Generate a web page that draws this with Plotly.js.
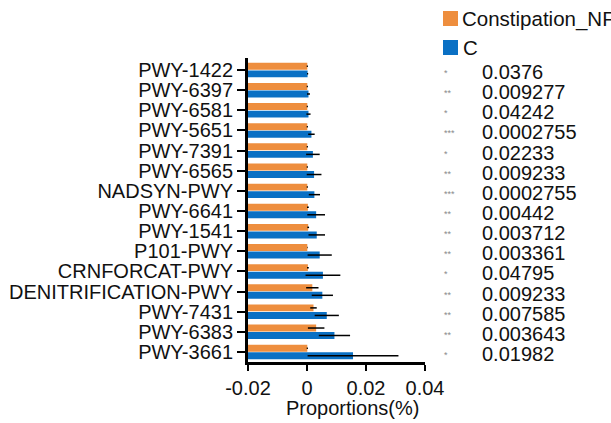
<!DOCTYPE html>
<html>
<head>
<meta charset="utf-8">
<script src="https://cdn.plot.ly/plotly-3.0.1.min.js"></script>
<style>
html,body{margin:0;padding:0;background:#fff;}
#chart{width:611px;height:423px;}
</style>
</head>
<body>
<div id="chart"></div>
<script>
// ---- data ----
const categories = ["PWY-1422","PWY-6397","PWY-6581","PWY-5651","PWY-7391","PWY-6565","NADSYN-PWY","PWY-6641","PWY-1541","P101-PWY","CRNFORCAT-PWY","DENITRIFICATION-PWY","PWY-7431","PWY-6383","PWY-3661"];
const seriesNames = ["Constipation_NF","C"];
const constipationNF = [0.0001,0.0001,0.0001,0.0001,0.0001,0.0001,0.0001,0.0003,0.0004,0.0001,0.0003,0.0018,0.0022,0.0031,0.0001];
const constipationNFErr = [0.0002,0.0002,0.0002,0.0002,0.0002,0.0002,0.0002,0.0003,0.0003,0.0001,0.0003,0.0021,0.0011,0.0028,0.0002];
const cVals = [0.0002,0.0005,0.0005,0.0015,0.0020,0.0024,0.0025,0.0031,0.0033,0.0043,0.0054,0.0052,0.0067,0.0093,0.0156];
const cErr = [0.0002,0.0005,0.0007,0.0011,0.0023,0.0025,0.0019,0.0030,0.0028,0.0041,0.0059,0.0036,0.0041,0.0053,0.0154];
const stars = ["*","**","*","***","*","**","***","**","**","**","*","**","**","**","*"];
const pValues = ["0.0376","0.009277","0.04242","0.0002755","0.02233","0.009233","0.0002755","0.00442","0.003712","0.003361","0.04795","0.009233","0.007585","0.003643","0.01982"];
const xTickVals = [-0.02, 0, 0.02, 0.04];
const xTickText = ["-0.02","0","0.02","0.04"];
const xTitle = "Proportions(%)";
const barBase = -0.02;

const colors = ["#EE8E3E", "#0A70C4"];
const FONT = "Liberation Sans, Arial, Helvetica, sans-serif";

function mkTrace(vals, errs, name, color) {
  return {
    type: "bar",
    orientation: "h",
    y: categories,
    x: vals.map(v => v - barBase),
    base: barBase,
    name: name,
    marker: {color: color, line: {width: 0}},
    error_x: {type: "data", array: errs, visible: true, color: "#000", thickness: 1.5, width: 0},
    showlegend: false,
    hoverinfo: "skip"
  };
}

const traces = [
  mkTrace(constipationNF, constipationNFErr, seriesNames[0], colors[0]),
  mkTrace(cVals, cErr, seriesNames[1], colors[1])
];

const annotations = [];
categories.forEach((c, i) => {
  annotations.push({
    xref: "paper", yref: "y", x: 1.095, y: c, text: stars[i],
    showarrow: false, xanchor: "left", yanchor: "middle", yshift: -3,
    font: {family: FONT, size: 9, color: "#8a8a8a"}
  });
  annotations.push({
    xref: "paper", yref: "y", x: 1.31, y: c, text: pValues[i],
    showarrow: false, xanchor: "left", yanchor: "middle", yshift: -2,
    font: {family: FONT, size: 20, color: "#111"}
  });
});
// legend text
annotations.push({xref: "paper", yref: "paper", x: 1.197, y: 1.1299, text: seriesNames[0],
  showarrow: false, xanchor: "left", yanchor: "middle", font: {family: FONT, size: 20.5, color: "#111"}});
annotations.push({xref: "paper", yref: "paper", x: 1.203, y: 1.0345, text: seriesNames[1],
  showarrow: false, xanchor: "left", yanchor: "middle", font: {family: FONT, size: 20.5, color: "#111"}});
// x-axis title
annotations.push({xref: "paper", yref: "paper", x: 0.593, y: -0.152, text: xTitle,
  showarrow: false, xanchor: "center", yanchor: "middle", font: {family: FONT, size: 20, color: "#111"}});

const shapes = [
  {type: "rect", xref: "paper", yref: "paper", x0: 1.1017, x1: 1.1864, y0: 1.1053, y1: 1.1546, fillcolor: colors[0], line: {width: 0}},
  {type: "rect", xref: "paper", yref: "paper", x0: 1.1017, x1: 1.1864, y0: 1.0099, y1: 1.0592, fillcolor: colors[1], line: {width: 0}}
];

const layout = {
  width: 611, height: 423,
  margin: {l: 248, r: 186, t: 58, b: 61, pad: 0},
  paper_bgcolor: "#fff", plot_bgcolor: "#fff",
  font: {family: FONT, size: 20, color: "#111"},
  barmode: "group",
  bargap: 0.25,
  bargroupgap: 0.08,
  showlegend: false,
  xaxis: {
    range: [-0.02, 0.04], autorange: false,
    tickvals: xTickVals, ticktext: xTickText,
    showgrid: false, zeroline: false,
    showline: true, linecolor: "#000", linewidth: 3,
    ticks: "outside", ticklen: 6, tickwidth: 2, tickcolor: "#000",
    tickfont: {family: FONT, size: 20, color: "#111"}
  },
  yaxis: {
    type: "category", categoryorder: "array", categoryarray: categories,
    tickmode: "array", tickvals: categories, ticktext: categories,
    range: [14.5, -0.6], autorange: false,
    showgrid: false, zeroline: false,
    showline: true, linecolor: "#000", linewidth: 3,
    ticks: "outside", ticklen: 8, tickwidth: 2, tickcolor: "#000",
    tickfont: {family: FONT, size: 20, color: "#111"}
  },
  annotations: annotations,
  shapes: shapes
};

Plotly.newPlot("chart", traces, layout, {displayModeBar: false, staticPlot: true});
</script>
</body>
</html>
